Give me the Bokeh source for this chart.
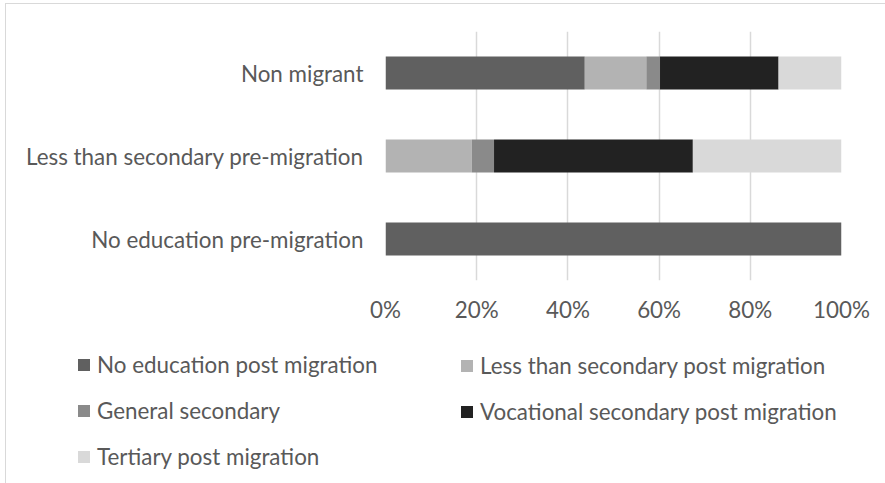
from bokeh.plotting import figure
from bokeh.layouts import column
from bokeh.models import ColumnDataSource, FactorRange, Legend, LegendItem, NumeralTickFormatter, FixedTicker
from bokeh.embed import file_html
from bokeh.resources import INLINE

# Educational attainment shares (percent) by pre-migration group
groups = ["No education pre-migration", "Less than secondary pre-migration", "Non migrant"]
no_education_post = [100.0, 0.0, 43.7]
less_than_secondary_post = [0.0, 18.9, 13.5]
general_secondary = [0.0, 4.9, 3.0]
vocational_secondary_post = [0.0, 43.6, 26.0]
tertiary_post = [0.0, 32.6, 13.8]
x_ticks = [0, 0.2, 0.4, 0.6, 0.8, 1.0]

series_names = [
    "No education post migration",
    "Less than secondary post migration",
    "General secondary",
    "Vocational secondary post migration",
    "Tertiary post migration",
]
series_values = [no_education_post, less_than_secondary_post, general_secondary,
                 vocational_secondary_post, tertiary_post]
colors = ["#606060", "#b3b3b3", "#8a8a8a", "#222222", "#d9d9d9"]

keys = ["s%d" % i for i in range(len(series_names))]
data = {"group": groups}
for k, vals in zip(keys, series_values):
    data[k] = [v / 100.0 for v in vals]
source = ColumnDataSource(data)

FONT = "Lato"
FONT_SIZE = "22.4px"
TEXT = "#595959"
W = 879

# --- stacked bar chart ---
p = figure(
    y_range=FactorRange(*groups), x_range=(0, 1),
    width=W, height=336, frame_width=456, frame_height=249,
    min_border_left=379, min_border_right=44, min_border_top=27, min_border_bottom=60,
    output_backend="svg", toolbar_location=None,
)
p.hbar_stack(keys, y="group", height=0.4, color=colors, source=source, line_width=0)

p.outline_line_color = None
p.xaxis.ticker = FixedTicker(ticks=x_ticks)
p.xaxis.formatter = NumeralTickFormatter(format="0%")
for ax in (p.xaxis, p.yaxis):
    ax.axis_line_color = None
    ax.major_tick_line_color = None
    ax.minor_tick_line_color = None
    ax.major_label_text_font = FONT
    ax.major_label_text_font_size = FONT_SIZE
    ax.major_label_text_color = TEXT
p.xaxis.major_label_standoff = 9
p.yaxis.major_label_standoff = 16
p.ygrid.grid_line_color = None
p.xgrid.grid_line_color = "#d9d9d9"
p.xgrid.grid_line_width = 1.5

# --- legend panel (two columns) ---
lg_fig = figure(
    width=W, height=143, frame_width=W, frame_height=143,
    min_border=0, x_range=(0, 1), y_range=(0, 1),
    output_backend="svg", toolbar_location=None,
)
lg_fig.axis.visible = False
lg_fig.grid.visible = False
lg_fig.outline_line_color = None

# one swatch renderer per series, kept outside the visible range
swatches = []
for name, c in zip(series_names, colors):
    swatches.append(lg_fig.hbar(y=[-10], left=[0], right=[0], height=0.4, color=c, line_width=0))

def make_legend(idx, loc):
    items = [LegendItem(label=series_names[i], renderers=[swatches[i]]) for i in idx]
    lg = Legend(items=items, location=loc, orientation="vertical",
                glyph_width=15, glyph_height=15, label_height=26, spacing=19,
                padding=0, margin=0, label_standoff=6,
                label_text_font=FONT, label_text_font_size=FONT_SIZE, label_text_color=TEXT,
                border_line_color=None, background_fill_alpha=0)
    lg_fig.add_layout(lg, "center")

make_legend([0, 2, 4], (70, 13))
make_legend([1, 3], (453, 58))

layout = column(p, lg_fig, spacing=0)
layout.styles = {"margin-left": "5px", "margin-top": "3px",
                 "border-left": "1px solid #d9d9d9", "border-top": "1px solid #d9d9d9"}

open("out.html", "w").write(file_html(layout, INLINE))
